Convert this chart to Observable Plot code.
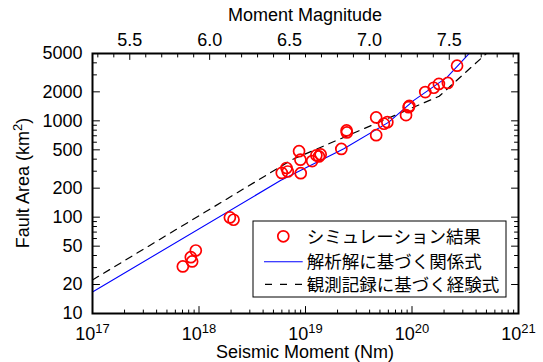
<!DOCTYPE html>
<html><head><meta charset="utf-8">
<script src="https://cdn.jsdelivr.net/npm/d3@7"></script>
<script src="https://cdn.jsdelivr.net/npm/@observablehq/plot@0.6"></script>
<style>
html,body{margin:0;padding:0;background:#fff;}
svg{display:block;}
</style></head><body><div id="chart"></div>
<script>
// Simulation results (seismic moment in Nm, fault area in km^2)
const simMoment = [7.05e17, 8.38e17, 8.62e17, 9.33e17, 1.95e18, 2.11e18, 5.99e18, 6.63e18, 6.82e18,
  8.70e18, 8.96e18, 9.02e18, 1.155e19, 1.265e19, 1.337e19, 1.388e19, 2.17e19, 2.43e19, 2.445e19,
  4.61e19, 4.61e19, 5.45e19, 5.87e19, 8.79e19, 9.29e19, 9.43e19, 1.332e20, 1.60e20, 1.789e20, 2.17e20, 2.65e20];
const simArea = [30.8, 38.4, 34.7, 45.1, 99.3, 94.0, 288, 324, 298,
  484, 395, 286, 382, 438, 427, 448, 511, 795, 758,
  1084, 710, 933, 969, 1146, 1387, 1428, 1987, 2206, 2417, 2475, 3735];
// Analytical relation (read vertices)
const theoryMoment = [1e17, 5.82e18, 2.29e19, 6.06e19, 1.04e20, 2.14e20, 3.54e20];
const theoryArea = [16.7, 240, 513, 969, 1629, 2844, 5170];
// Empirical relation from observations (read vertices)
const empiricalMoment = [1e17, 7.5e18, 1.8e20, 1e21];
const empiricalArea = [22.3, 396, 1800, 10000];

// Axis ticks
const xDecades = [1e17, 1e18, 1e19, 1e20, 1e21];
const xMinor = [2e17,3e17,4e17,5e17,6e17,7e17,8e17,9e17, 2e18,3e18,4e18,5e18,6e18,7e18,8e18,9e18,
  2e19,3e19,4e19,5e19,6e19,7e19,8e19,9e19, 2e20,3e20,4e20,5e20,6e20,7e20,8e20,9e20];
const yLabels = [10, 20, 50, 100, 200, 500, 1000, 2000, 5000];
const yMinor = [30, 40, 60, 70, 80, 90, 300, 400, 600, 700, 800, 900, 3000, 4000];
const mwMajor = [5.5, 6.0, 6.5, 7.0, 7.5];
const mwMinor = [5.3, 5.4, 5.6, 5.7, 5.8, 5.9, 6.1, 6.2, 6.3, 6.4, 6.6, 6.7, 6.8, 6.9, 7.1, 7.2, 7.3, 7.4, 7.6, 7.7, 7.8, 7.9];

const xTitle = "Seismic Moment (Nm)";
const yTitle = "Fault Area (km";
const topTitle = "Moment Magnitude";
const legendLabels = ["シミュレーション結果", "解析解に基づく関係式", "観測記録に基づく経験式"];

const mwToM0 = mw => Math.pow(10, 1.5 * mw + 9.1);

const simData = simMoment.map((m, i) => ({m, s: simArea[i]}));
const theoryData = theoryMoment.map((m, i) => ({m, s: theoryArea[i]}));
const empData = empiricalMoment.map((m, i) => ({m, s: empiricalArea[i]}));
const mwMajorData = mwMajor.map(mw => ({m: mwToM0(mw), label: mw.toFixed(1)}));
const mwMinorM0 = mwMinor.map(mwToM0);

const font = "'Liberation Sans', Arial, Helvetica, sans-serif";
const tickShape = {draw(context, l) { context.moveTo(0, 0); context.lineTo(0, -l); }};
const tickOpts = {anchor: "start", shape: tickShape, stroke: "black", strokeWidth: 1};

const svg = Plot.plot({
  width: 543, height: 362,
  marginLeft: 92, marginRight: 25, marginTop: 53, marginBottom: 49,
  style: {fontFamily: font, fontSize: "18px", color: "black", background: "white", overflow: "visible"},
  x: {type: "log", domain: [1e17, 1e21], axis: null},
  y: {type: "log", domain: [10, 5000], axis: null},
  marks: [
    Plot.line(empData, {x: "m", y: "s", stroke: "black", strokeWidth: 1.2, strokeDasharray: "7,6", clip: true}),
    Plot.line(theoryData, {x: "m", y: "s", stroke: "#0000ff", strokeWidth: 1.1, clip: true}),
    Plot.dot(simData, {x: "m", y: "s", r: 5.5, stroke: "#ff0000", strokeWidth: 1.7, fill: "none"}),
    // bottom ticks
    Plot.vector(xDecades, {x: d => d, frameAnchor: "bottom", length: 7, rotate: 0, ...tickOpts}),
    Plot.vector(xMinor, {x: d => d, frameAnchor: "bottom", length: 3.5, rotate: 0, ...tickOpts}),
    // top ticks
    Plot.vector(mwMajorData, {x: "m", frameAnchor: "top", length: 6, rotate: 180, ...tickOpts}),
    Plot.vector(mwMinorM0, {x: d => d, frameAnchor: "top", length: 3.5, rotate: 180, ...tickOpts}),
    // left / right ticks
    Plot.vector(yLabels, {y: d => d, frameAnchor: "left", length: 7, rotate: 90, ...tickOpts}),
    Plot.vector(yMinor, {y: d => d, frameAnchor: "left", length: 4, rotate: 90, ...tickOpts}),
    Plot.vector(yLabels, {y: d => d, frameAnchor: "right", length: 7, rotate: -90, ...tickOpts}),
    Plot.vector(yMinor, {y: d => d, frameAnchor: "right", length: 4, rotate: -90, ...tickOpts}),
    // tick labels
    Plot.text(xDecades, {x: d => d, frameAnchor: "bottom", lineAnchor: "top", dy: 13.5, fill: "black",
      text: d => "10^" + Math.round(Math.log10(d))}),
    Plot.text(mwMajorData, {x: "m", frameAnchor: "top", lineAnchor: "bottom", dy: -7.5, fill: "black", text: "label"}),
    Plot.text(yLabels, {y: d => d, frameAnchor: "left", textAnchor: "end", dx: -10, fill: "black", text: d => String(d)}),
    Plot.frame({stroke: "black", strokeWidth: 2})
  ]
});

document.getElementById("chart").appendChild(svg);
const S = d3.select(svg);

// superscripts for 10^n labels
S.selectAll("text").each(function () {
  const t = this.textContent;
  if (t.includes("^")) {
    const [b, e] = t.split("^");
    const sel = d3.select(this);
    sel.text(null);
    sel.append("tspan").text(b);
    sel.append("tspan").attr("dy", "-6.6px").attr("font-size", "13px").text(e);
  }
});

// axis titles
S.append("text").attr("x", 305).attr("y", 20.8).attr("text-anchor", "middle")
  .attr("font-family", font).attr("font-size", 18).attr("fill", "black").text(topTitle);
S.append("text").attr("x", 305).attr("y", 358).attr("text-anchor", "middle")
  .attr("font-family", font).attr("font-size", 18).attr("fill", "black").text(xTitle);
const yt = S.append("text").attr("transform", "translate(29,183) rotate(-90)").attr("text-anchor", "middle")
  .attr("font-family", font).attr("font-size", 18).attr("fill", "black");
yt.append("tspan").text(yTitle);
yt.append("tspan").attr("dy", "-6.6px").attr("font-size", "13px").text("2");
yt.append("tspan").attr("dy", "6.6px").text(")");

// legend
const lg = S.append("g");
lg.append("rect").attr("x", 253).attr("y", 221).attr("width", 253).attr("height", 76)
  .attr("fill", "white").attr("stroke", "black").attr("stroke-width", 1);
const rows = [236.3, 261.8, 284.3];
lg.append("circle").attr("cx", 283.3).attr("cy", rows[0]).attr("r", 5.5)
  .attr("fill", "none").attr("stroke", "#ff0000").attr("stroke-width", 1.7);
lg.append("line").attr("x1", 264).attr("x2", 302.7).attr("y1", rows[1]).attr("y2", rows[1])
  .attr("stroke", "#0000ff").attr("stroke-width", 1.1);
lg.append("line").attr("x1", 265).attr("x2", 302).attr("y1", rows[2]).attr("y2", rows[2])
  .attr("stroke", "black").attr("stroke-width", 1.2).attr("stroke-dasharray", "7,8");
legendLabels.forEach((t, i) => {
  lg.append("text").attr("x", 306.7).attr("y", rows[i]).attr("dy", "0.36em").attr("text-anchor", "start")
    .attr("font-family", "'Noto Sans CJK JP', sans-serif").attr("font-size", 17.5)
    .attr("fill", "black").text(t);
});
</script></body></html>
